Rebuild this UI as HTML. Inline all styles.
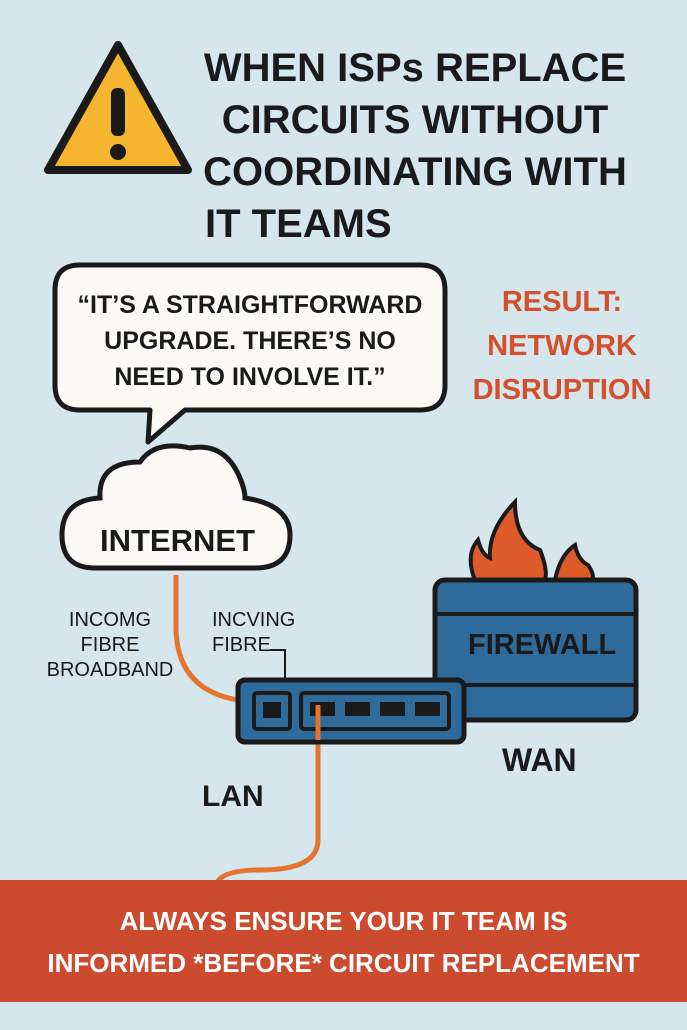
<!DOCTYPE html>
<html><head><meta charset="utf-8"><style>
body{margin:0;width:687px;height:1030px;background:#d5e6ec;position:relative;overflow:hidden;font-family:"Liberation Sans",sans-serif}
.t{position:absolute;font-weight:bold;white-space:nowrap;color:#1a1a1a}
</style></head><body>
<svg width="687" height="1030" style="position:absolute;left:0;top:0">
<path d="M118 45 L188 170 L48 170 Z" fill="#f6b52e" stroke="#1a1a1a" stroke-width="8" stroke-linejoin="round"/>
<rect x="111" y="88" width="14" height="48" rx="6" fill="#1a1a1a"/>
<circle cx="118" cy="152" r="8" fill="#1a1a1a"/>
<path d="M80 265 H420 Q445 265 445 290 V385 Q445 410 420 410 H185 L148 442 L150 410 H80 Q55 410 55 385 V290 Q55 265 80 265 Z" fill="#fbfaf6" stroke="#1a1a1a" stroke-width="5" stroke-linejoin="round"/>
<path d="M176 575 V630 Q178 690 238 700" fill="none" stroke="#e4742e" stroke-width="5"/>
<path d="M318 705 V840 Q318 870 260 870 Q220 870 216 885" fill="none" stroke="#e4742e" stroke-width="5"/>
<path d="M270 650 H285 V682" fill="none" stroke="#1a1a1a" stroke-width="2"/>
<path d="M95 568 Q62 568 62 535 Q62 500 100 498 Q98 462 140 462 Q155 440 190 448 Q225 442 240 478 Q245 490 245 498 Q290 505 290 535 Q290 568 255 568 Z" fill="#fbfaf6" stroke="#1a1a1a" stroke-width="5"/>
<path d="M475 580 Q465 555 478 540 Q482 555 490 558 Q488 530 515 502 Q515 540 540 550 Q548 570 545 580 Z" fill="#dd5a2a" stroke="#1a1a1a" stroke-width="4"/>
<path d="M555 580 Q560 555 575 545 Q578 560 588 565 Q595 575 592 580 Z" fill="#dd5a2a" stroke="#1a1a1a" stroke-width="4"/>
<rect x="435" y="580" width="201" height="140" rx="10" fill="#2e6b9a" stroke="#1a1a1a" stroke-width="5"/>
<line x1="435" y1="614" x2="636" y2="614" stroke="#1a1a1a" stroke-width="4"/>
<line x1="435" y1="685" x2="636" y2="685" stroke="#1a1a1a" stroke-width="4"/>
<rect x="238" y="680" width="226" height="62" rx="7" fill="#2e6b9a" stroke="#1a1a1a" stroke-width="5"/>
<rect x="254" y="693" width="36" height="36" rx="3" fill="#2e6b9a" stroke="#1a1a1a" stroke-width="4"/>
<rect x="301" y="693" width="148" height="36" rx="3" fill="#2e6b9a" stroke="#1a1a1a" stroke-width="4"/>
<rect x="263" y="702" width="18" height="16" fill="#1a1a1a"/>
<rect x="310" y="702" width="25" height="14" fill="#1a1a1a"/>
<rect x="345" y="702" width="25" height="14" fill="#1a1a1a"/>
<rect x="380" y="702" width="25" height="14" fill="#1a1a1a"/>
<rect x="415" y="702" width="25" height="14" fill="#1a1a1a"/>
<path d="M318 705 V740" stroke="#e4742e" stroke-width="5"/>
<rect x="0" y="880" width="687" height="122" fill="#cc4a2e"/>
</svg>
<div class="t" style="left:195px;top:42px;font-size:40px;line-height:52px;text-align:center;width:440px">WHEN ISPs REPLACE<br>CIRCUITS WITHOUT<br>COORDINATING WITH</div>
<div class="t" style="left:205px;top:198px;font-size:40px;line-height:52px">IT TEAMS</div>
<div class="t" style="left:70px;top:287px;width:360px;text-align:center;font-size:25px;line-height:36px">“IT’S A STRAIGHTFORWARD<br>UPGRADE. THERE’S NO<br>NEED TO INVOLVE IT.”</div>
<div class="t" style="left:472px;top:280px;width:180px;text-align:center;font-size:29px;line-height:44px;color:#d4502c">RESULT:<br>NETWORK<br>DISRUPTION</div>
<div class="t" style="left:100px;top:523px;font-size:31px">INTERNET</div>
<div class="t" style="left:45px;top:608px;width:130px;text-align:center;font-size:20px;line-height:25px;font-weight:normal">INCOMG<br>FIBRE<br>BROADBAND</div>
<div class="t" style="left:212px;top:608px;font-size:20px;line-height:25px;font-weight:normal">INCVING<br>FIBRE</div>
<div class="t" style="left:468px;top:629px;font-size:29px">FIREWALL</div>
<div class="t" style="left:502px;top:742px;font-size:32px">WAN</div>
<div class="t" style="left:202px;top:780px;font-size:30px">LAN</div>
<div class="t" style="left:0;top:900px;width:687px;text-align:center;font-size:26px;line-height:42px;color:#fff">ALWAYS ENSURE YOUR IT TEAM IS<br>INFORMED *BEFORE* CIRCUIT REPLACEMENT</div>
</body></html>
